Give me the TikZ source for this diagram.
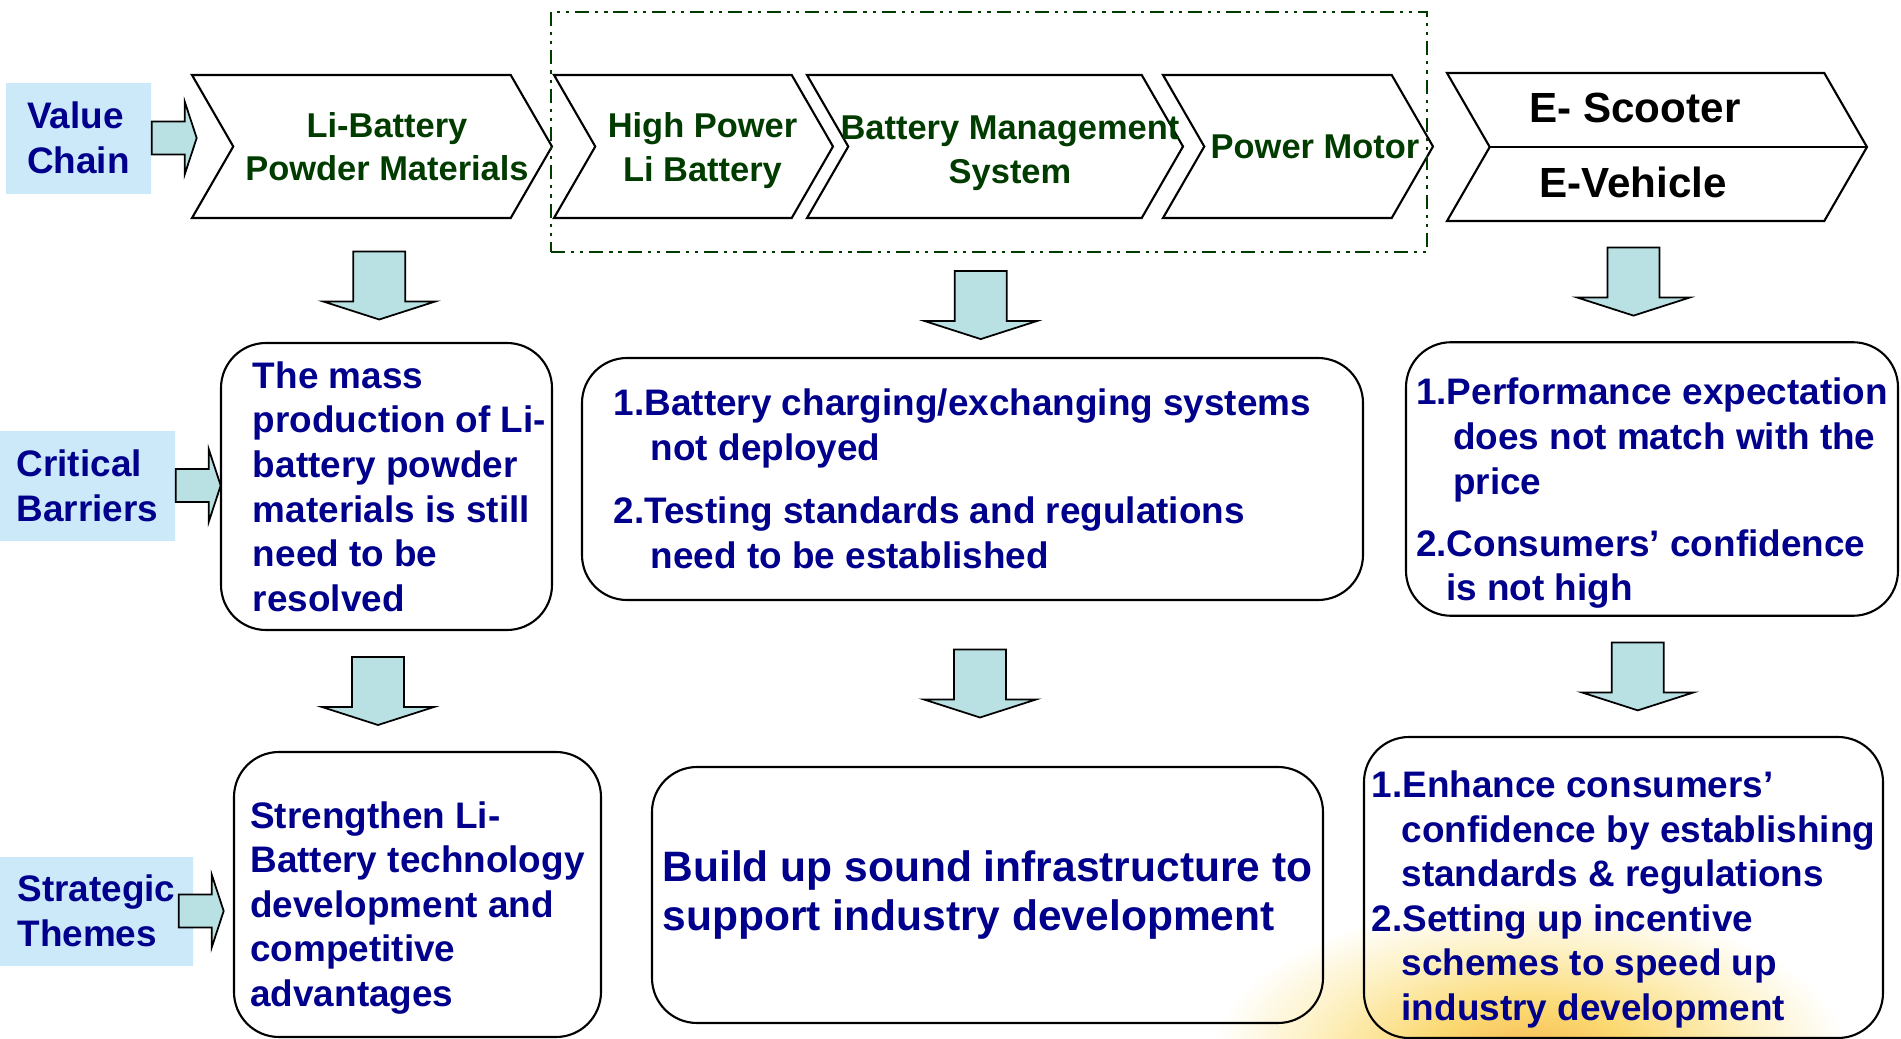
\documentclass[tikz,border=0pt]{standalone}
\usepackage{fontspec}
\setmainfont{Liberation Sans}
\usetikzlibrary{shapes.symbols,calc}

\definecolor{navy}{RGB}{0,0,140}
\definecolor{chaingreen}{RGB}{0,60,0}
\definecolor{arrowblue}{RGB}{185,224,226}
\definecolor{labelblue}{RGB}{204,233,250}
\definecolor{glowcore}{RGB}{247,182,84}
\definecolor{glowmid}{RGB}{251,216,112}
\definecolor{glowedge}{RGB}{253,240,192}
\pgfdeclareradialshading{sunglow}{\pgfpoint{0bp}{0bp}}{%
  color(0bp)=(glowcore); color(8bp)=(glowmid); color(17bp)=(glowedge);
  color(25bp)=(white); color(50bp)=(white)}

\begin{document}
\begin{tikzpicture}[
    % Styles
    rowlabel/.style={
      rectangle,
      left color=labelblue,
      middle color=white,
      right color=labelblue,
      text=navy,
      align=left,
      font=\fontsize{10.5}{12.7}\selectfont\bfseries,
    },
    chevron/.style={
      signal,
      signal from=west,
      signal to=east,
      signal pointer angle=120,
      draw=black,
      line width=0.6pt,
      fill=white,
      minimum height=1.43cm,
    },
    chaintext/.style={
      text=chaingreen,
      align=center,
      font=\fontsize{9.8}{12.4}\selectfont\bfseries,
    },
    roundbox/.style={
      rectangle,
      draw=black,
      line width=0.6pt,
      rounded corners=0.45cm,
      inner sep=2pt,
      text=navy,
      align=left,
      font=\fontsize{10.5}{12.7}\selectfont\bfseries,
    },
    groupbox/.style={
      draw=chaingreen,
      line width=0.7pt,
      dash pattern=on 4pt off 1.7pt on 0.9pt off 1.7pt on 0.9pt off 1.7pt,
    },
    blockarrow/.style={
      draw=black,
      line width=0.5pt,
      fill=arrowblue,
    },
    dnarrow/.pic={
      \draw[blockarrow] (-0.26,0.34) -- (0.26,0.34) -- (0.26,-0.16) -- (0.56,-0.16)
        -- (0,-0.34) -- (-0.56,-0.16) -- (-0.26,-0.16) -- cycle;
    },
    rtarrow/.pic={
      \draw[blockarrow] (0,0.165) -- (0.33,0.165) -- (0.33,0.365) -- (0.45,0)
        -- (0.33,-0.365) -- (0.33,-0.165) -- (0,-0.165) -- cycle;
    },
  ]
  \useasboundingbox (0,0) rectangle (19.01,-10.39);

  % soft glow in the lower right corner
  \shade[shading=sunglow] (15.3,-10.6) ellipse (3.2 and 1.6);

  % Row labels
  \node[rowlabel, minimum width=1.45cm, minimum height=1.10cm] (vc) at (0.785,-1.38) {Value\\Chain};
  \node[rowlabel, minimum width=1.75cm, minimum height=1.09cm] (cb) at (0.875,-4.855) {Critical\\Barriers};
  \node[rowlabel, minimum width=1.93cm, minimum height=1.08cm] (st) at (0.965,-9.11) {Strategic\\Themes};
  \pic at (vc.east) {rtarrow};
  \pic at (cb.east) {rtarrow};
  \pic at ([xshift=-0.15cm]st.east) {rtarrow};

  % Value chain
  \node[chevron, minimum width=3.60cm] (powder) at (3.72,-1.465) {};
  \node[chevron, minimum width=2.79cm] (cell) at (6.935,-1.465) {};
  \node[chevron, minimum width=3.76cm] (bms) at (9.95,-1.465) {};
  \node[chevron, minimum width=2.70cm] (motor) at (12.98,-1.465) {};
  \node[chevron, minimum width=4.20cm, minimum height=1.48cm] (ev) at (16.57,-1.47) {};
  \draw[line width=0.6pt] (ev.west) -- (ev.east);
  \node[chaintext] (powdertext) at ([xshift=0.15cm]powder.center) {Li-Battery\\Powder Materials};
  \node[chaintext] (celltext) at ([shift={(0.09,-0.04)}]cell.center) {High Power\\Li Battery};
  \node[chaintext] (bmstext) at ([shift={(0.15,-0.065)}]bms.center) {Battery Management\\System};
  \node[chaintext] (motortext) at ([xshift=0.17cm]motor.center) {Power Motor};
  \node[font=\fontsize{12}{14}\selectfont\bfseries] (scooter) at ([shift={(-0.22,0.39)}]ev.center) {E- Scooter};
  \node[font=\fontsize{12}{14}\selectfont\bfseries] (vehicle) at ([shift={(-0.24,-0.35)}]ev.center) {E-Vehicle};
  \node[groupbox, minimum width=8.76cm, minimum height=2.40cm] (chainbox) at (9.89,-1.32) {};

  % Critical barriers
  \node[roundbox, inner xsep=0pt, minimum width=3.31cm, minimum height=2.87cm] (massprod) at (3.865,-4.865)
    {\hspace*{0.26cm}The mass\\\hspace*{0.26cm}production of Li-\\\hspace*{0.26cm}battery powder\\
     \hspace*{0.26cm}materials is still\\\hspace*{0.26cm}need to be\\\hspace*{0.26cm}resolved};
  \node[roundbox, minimum width=7.81cm, minimum height=2.42cm] (charging) at (9.725,-4.79)
    {1.Battery charging/exchanging systems\hspace*{0.2cm}\\\hspace*{0.37cm}not deployed\\[5.3pt]
     2.Testing standards and regulations\\\hspace*{0.37cm}need to be established};
  \node[roundbox, minimum width=4.92cm, minimum height=2.72cm] (price) at (16.52,-4.79)
    {\rule{0pt}{15.8pt}1.Performance expectation\\\hspace*{0.37cm}does not match with the\\\hspace*{0.37cm}price\\[5pt]
     2.Consumers’ confidence\\\hspace*{0.30cm}is not high};

  % Strategic themes
  \node[roundbox, minimum width=3.67cm, minimum height=2.85cm] (techdev) at (4.175,-8.945)
    {\rule{0pt}{15.2pt}Strengthen Li-\\Battery technology\\development and\\competitive\\advantages};
  \node[roundbox, minimum width=6.71cm, minimum height=2.56cm,
        font=\fontsize{12.1}{14.2}\selectfont\bfseries] (infra) at (9.875,-8.95)
    {Build up sound infrastructure to\\support industry development};
  \node[roundbox, minimum width=5.19cm, minimum height=3.01cm] (incentive) at (16.235,-8.875)
    {\rule{0pt}{14.4pt}1.Enhance consumers’\\\hspace*{0.30cm}confidence by establishing\\\hspace*{0.30cm}standards \& regulations\\
     2.Setting up incentive\\\hspace*{0.30cm}schemes to speed up\\\hspace*{0.30cm}industry development};

  % Block arrows between the rows
  \pic at ([yshift=-0.05cm]$(powder.south)!0.5!(massprod.north)$) {dnarrow};
  \pic at ($(chainbox.south)!0.5!(charging.north)$) {dnarrow};
  \pic at ([xshift=-0.21cm]$(ev.south)!0.5!(price.north)$) {dnarrow};
  \pic at ([xshift=-0.24cm]$(massprod.south)!0.5!(techdev.north)$) {dnarrow};
  \pic at ($(charging.south)!0.5!(infra.north)$) {dnarrow};
  \pic at ($(price.south)!0.5!(incentive.north)$) {dnarrow};
\end{tikzpicture}
\end{document}
